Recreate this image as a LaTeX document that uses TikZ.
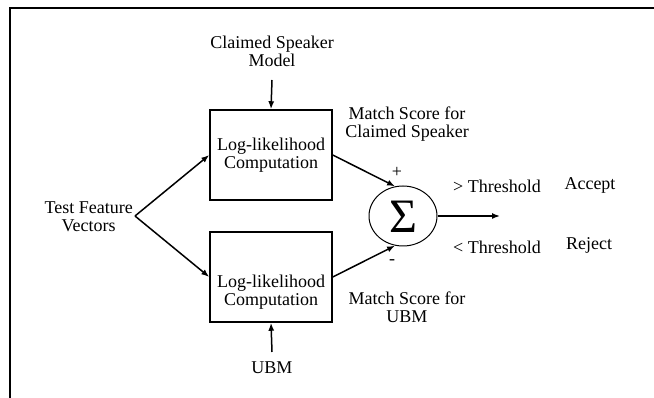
\documentclass[tikz,border=0pt]{standalone}
\usepackage{fontspec}
\setmainfont{Liberation Serif}
\usetikzlibrary{shapes.geometric,arrows.meta}
\begin{document}
\begin{tikzpicture}[x=1pt,y=-1pt,
  every node/.style={font=\fontsize{18}{18}\selectfont, align=center, inner sep=0pt},
  llbox/.style={draw, line width=1.5pt, minimum width=122pt, minimum height=90pt},
  sumnode/.style={draw, ellipse, line width=1pt, minimum width=68pt, minimum height=60pt},
  conn/.style={line width=1.5pt},
  arr/.style={conn, -{Latex[length=8pt,width=6pt]}}]
\useasboundingbox (0,0) rectangle (654,398);
% open frame
\draw[line width=2.2pt] (10,398) -- (10,8) -- (654,8);
% inputs
\node (csm) at (272,51) {Claimed Speaker\\Model};
\node (ubm) at (272,368) {UBM};
\node[anchor=east] (tfv) at (133,217) {Test Feature\\Vectors};
\coordinate (split) at (135,216);
\coordinate (csmtail) at (272,80);
\coordinate (ubmtail) at (272,352);
% log-likelihood blocks
\node[llbox] (ll1) at (271,155) {Log-likelihood\\Computation};
\node[llbox] (ll2) at (271,277) {};
\node (ll2txt) at (271,292) {Log-likelihood\\Computation};
% summation
\node[sumnode] (sig) at (403,216) {};
\node (sigma) at (403,217) {\fontsize{48}{48}\selectfont Σ};
\coordinate (out) at (500,216);
% labels
\node (ms1) at (407,124) {Match Score for\\Claimed Speaker};
\node (ms2) at (407,307) {Match Score for\\UBM};
\node (plus) at (397,172) {+};
\node (minus) at (392,262) {-};
\node (gt) at (497,186) {> Threshold};
\node (lt) at (497,247) {< Threshold};
\node (acc) at (590,185) {Accept};
\node (rej) at (589,245) {Reject};
% connectors
\draw[arr] (csmtail) -- (ll1.north);
\draw[arr] (ubmtail) -- (ll2.south);
\draw[arr] (split) -- (ll1.west);
\draw[arr] (split) -- (ll2.west);
\draw[arr] (ll1.east) -- (sig.105);
\draw[arr] (ll2.east) -- (sig.-105);
\draw[arr] (sig.east) -- (out);
\end{tikzpicture}
\end{document}
